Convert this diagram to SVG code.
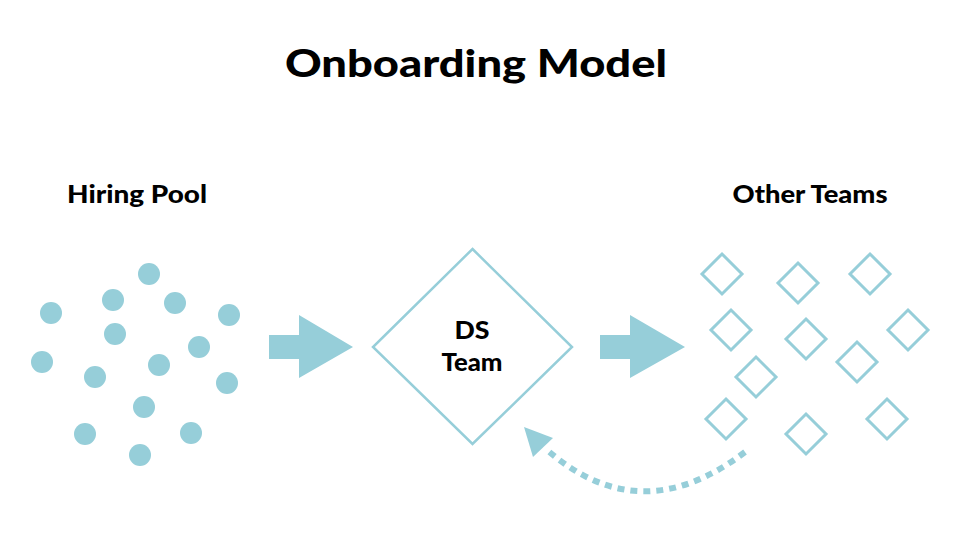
<svg xmlns="http://www.w3.org/2000/svg" width="960" height="540" viewBox="0 0 960 540">
<defs>
<style>
text{font-family:Lato,"Open Sans","Liberation Sans",sans-serif;font-weight:900;fill:#000;text-anchor:middle}
.dot{fill:#96CED9}
.dia{fill:none;stroke:#96CED9;stroke-width:3}
.big{fill:#fff;stroke:#96CED9;stroke-width:2.5}
.arr{fill:#96CED9}
.dash{fill:none;stroke:#96CED9;stroke-width:6;stroke-dasharray:7 6}
</style>
<g id="sq"><path d="M0,-20L20,0L0,20L-20,0Z" class="dia"/></g>
</defs>
<rect width="960" height="540" fill="#fff"/>
<text x="476" y="77" font-size="38" textLength="382" lengthAdjust="spacingAndGlyphs">Onboarding Model</text>
<g id="hiring-pool">
<text x="137" y="203" font-size="24" textLength="140" lengthAdjust="spacingAndGlyphs">Hiring Pool</text>
<circle class="dot" cx="149" cy="274" r="11"/>
<circle class="dot" cx="113" cy="300" r="11"/>
<circle class="dot" cx="175" cy="303" r="11"/>
<circle class="dot" cx="51" cy="313" r="11"/>
<circle class="dot" cx="229" cy="315" r="11"/>
<circle class="dot" cx="115" cy="334" r="11"/>
<circle class="dot" cx="199" cy="347" r="11"/>
<circle class="dot" cx="42" cy="362" r="11"/>
<circle class="dot" cx="159" cy="365" r="11"/>
<circle class="dot" cx="95" cy="377" r="11"/>
<circle class="dot" cx="227" cy="383" r="11"/>
<circle class="dot" cx="144" cy="407" r="11"/>
<circle class="dot" cx="85" cy="434" r="11"/>
<circle class="dot" cx="191" cy="433" r="11"/>
<circle class="dot" cx="140" cy="455" r="11"/>
</g>
<g id="ds-team">
<path class="big" d="M472.5,249L572,347L472.5,444L373,347Z"/>
<text x="472" y="339" font-size="24" textLength="35" lengthAdjust="spacingAndGlyphs">DS</text>
<text x="472" y="371" font-size="24" textLength="61" lengthAdjust="spacingAndGlyphs">Team</text>
</g>
<g id="other-teams">
<text x="810" y="203" font-size="24" textLength="155" lengthAdjust="spacingAndGlyphs">Other Teams</text>
<use href="#sq" x="722" y="274"/>
<use href="#sq" x="798" y="283"/>
<use href="#sq" x="870" y="274"/>
<use href="#sq" x="731" y="330"/>
<use href="#sq" x="806" y="339"/>
<use href="#sq" x="908" y="330"/>
<use href="#sq" x="857" y="362"/>
<use href="#sq" x="756" y="377"/>
<use href="#sq" x="726" y="419"/>
<use href="#sq" x="806" y="434"/>
<use href="#sq" x="887" y="419"/>
</g>
<g id="connectors">
<path class="arr" d="M269,335H299V315L353,347L299,378V359H269Z"/>
<path class="arr" d="M600,335H630V315L685,347L630,378V359H600Z"/>
<path class="dash" d="M745,452Q640,532 546,449"/>
<path class="arr" d="M524,427L553,438L533,457Z"/>
</g>
</svg>
